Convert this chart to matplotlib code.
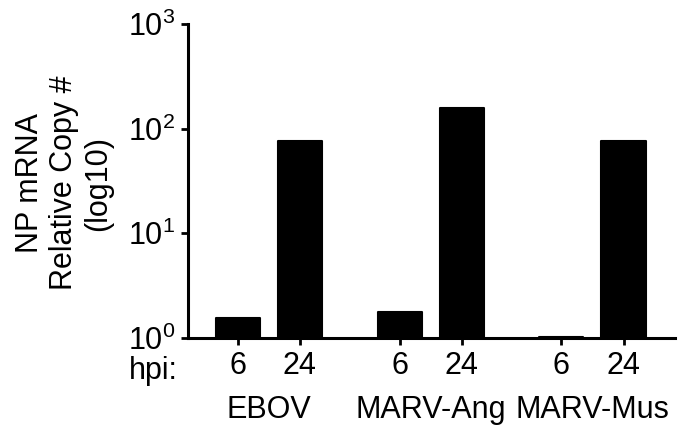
import matplotlib
matplotlib.use("Agg")
import matplotlib.pyplot as plt
import numpy as np

plt.rcParams['font.family'] = ['Liberation Sans', 'DejaVu Sans']

groups = ["EBOV", "MARV-Ang", "MARV-Mus"]
hpi_labels = ["6", "24"]
values_6h = [1.55, 1.77, 1.02]
values_24h = [77, 158, 77]
ytick_vals = [1, 10, 100, 1000]
ytick_labels = [r"$\mathregular{10^0}$", r"$\mathregular{10^1}$", r"$\mathregular{10^2}$", r"$\mathregular{10^3}$"]

FS = 22
W, H = 693, 432
fig = plt.figure(figsize=(6.93, 4.32), dpi=100)
ax = fig.add_axes([188 / W, 1 - 338 / H, (675 - 188) / W, (338 - 24) / H])

group_step = 2.61
xpos = []
vals = []
labels = []
for i in range(len(groups)):
    base = i * group_step
    xpos += [base, base + 1]
    vals += [values_6h[i], values_24h[i]]
    labels += hpi_labels

bars = ax.bar(xpos, vals, width=0.71, color='black', edgecolor='black', linewidth=1.5, bottom=0)
for b in bars:
    b.set_joinstyle('round')
ax.set_yscale('log')
ax.set_ylim(1, 1000)
ax.set_xlim(-0.8, 7.05)
ax.set_yticks(ytick_vals)
ax.set_yticklabels(ytick_labels, fontsize=FS)
ax.yaxis.set_minor_locator(matplotlib.ticker.NullLocator())
ax.set_xticks(xpos)
ax.set_xticklabels(labels, fontsize=FS)

for s in ['top', 'right']:
    ax.spines[s].set_visible(False)
for s in ['left', 'bottom']:
    ax.spines[s].set_linewidth(2.2)
ax.tick_params(axis='both', which='major', direction='out', length=5, width=2, color='black')
ax.tick_params(axis='y', pad=4)
ax.tick_params(axis='x', pad=4)

fig.text(64 / W, 1 - 183 / H, "NP mRNA\nRelative Copy #\n(log10)", fontsize=FS,
         rotation=90, ha='center', va='center', linespacing=1.18, multialignment='center')

# hpi label and group labels
fig.text(178 / W, 1 - 367 / H, "hpi:", fontsize=FS, ha='right', va='center_baseline')
for i, g in enumerate(groups):
    xd = ax.transData.transform((i * group_step + 0.5, 1))[0]
    fig.text(xd / W, 1 - 410 / H, g, fontsize=FS, ha='center', va='center')

fig.savefig("out.png", dpi=100)
